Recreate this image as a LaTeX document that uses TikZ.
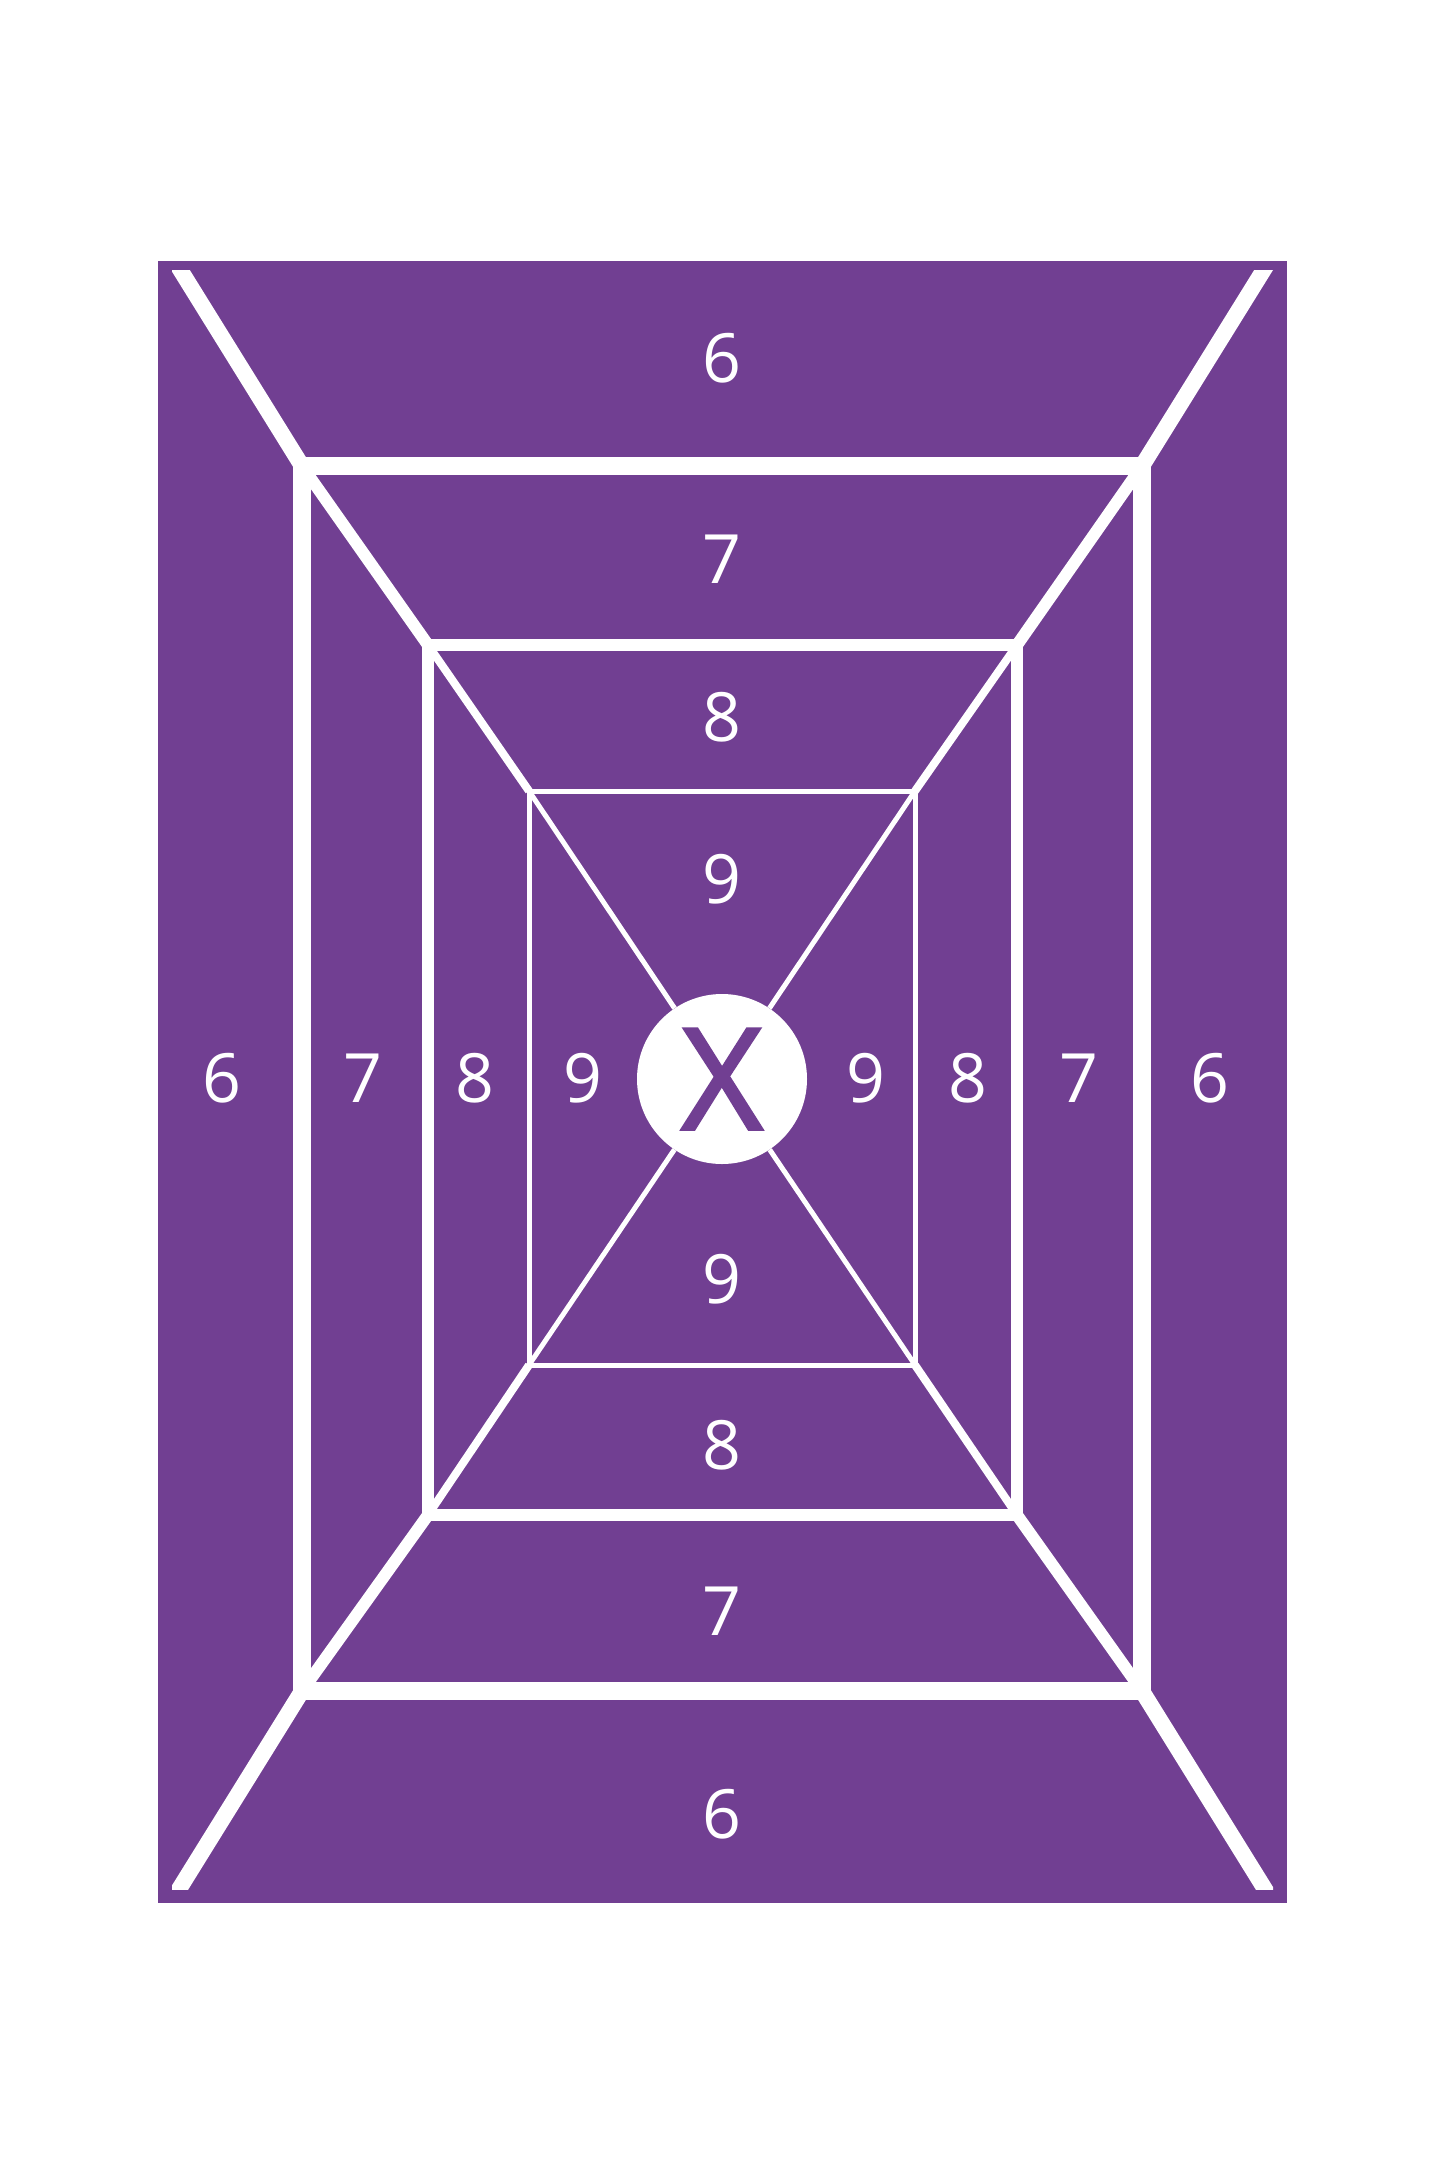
\documentclass[tikz,border=0pt]{standalone}
\usepackage{fontspec}
\setmainfont{Open Sans}
\newfontfamily\xletterfont[FakeBold=2]{Open Sans}
\definecolor{tgtpurple}{RGB}{113,63,146}
\begin{document}
\begin{tikzpicture}[x=1pt,y=-1pt,
  ringone/.style={draw=white,line width=18pt,line join=miter},
  ringtwo/.style={draw=white,line width=12pt,line join=miter},
  ringthree/.style={draw=white,line width=5pt,line join=miter},
  diagone/.style={draw=white,line width=16pt},
  diagtwo/.style={draw=white,line width=12pt},
  diagthree/.style={draw=white,line width=8pt},
  diagfour/.style={draw=white,line width=5pt},
  num/.style={text=white,font=\fontsize{68}{68}\selectfont,inner sep=0pt}]
\useasboundingbox (0,0) rectangle (1445,2168);
\fill[tgtpurple] (158,261) rectangle (1287,1903);
% corner coordinates
\coordinate (E1) at (150,221);  \coordinate (E2) at (1294,221);
\coordinate (E3) at (1294,1936); \coordinate (E4) at (150,1936);
\coordinate (A1) at (302,466);  \coordinate (B1) at (1142,466);
\coordinate (C1) at (1142,1691); \coordinate (D1) at (302,1691);
\coordinate (A2) at (428,645);  \coordinate (B2) at (1017,645);
\coordinate (C2) at (1017,1515); \coordinate (D2) at (428,1515);
\coordinate (A3) at (529,791);  \coordinate (B3) at (915,791);
\coordinate (C3) at (915,1365);  \coordinate (D3) at (529,1365);
\node[circle,fill=white,minimum size=170pt,inner sep=0pt,text=tgtpurple,
      font=\xletterfont\fontsize{141}{141}\selectfont] (X) at (722,1079) {X};
% diagonals
\begin{scope}
\clip (172,270) rectangle (1273,1889);
\draw[diagone] (E1) -- (A1);
\draw[diagone] (E2) -- (B1);
\draw[diagone] (E3) -- (C1);
\draw[diagone] (E4) -- (D1);
\end{scope}
\draw[diagtwo] (A1) -- (A2);
\draw[diagtwo] (B1) -- (B2);
\draw[diagtwo] (C1) -- (C2);
\draw[diagtwo] (D1) -- (D2);
\draw[diagthree] (A2) -- (A3);
\draw[diagthree] (B2) -- (B3);
\draw[diagthree] (C2) -- (C3);
\draw[diagthree] (D2) -- (D3);
\draw[diagfour] (A3) -- (X);
\draw[diagfour] (B3) -- (X);
\draw[diagfour] (C3) -- (X);
\draw[diagfour] (D3) -- (X);
% rings
\draw[ringone] (A1) rectangle (C1);
\draw[ringtwo] (A2) rectangle (C2);
\draw[ringthree] (A3) rectangle (C3);
% numbers: top column
\node[num] (t6) at (722,358) {6};
\node[num] (t7) at (722,559) {7};
\node[num] (t8) at (722,717) {8};
\node[num] (t9) at (722,879) {9};
% bottom column
\node[num] (b9) at (722,1279) {9};
\node[num] (b8) at (722,1445) {8};
\node[num] (b7) at (722,1611) {7};
\node[num] (b6) at (722,1814) {6};
% middle row
\node[num] (l6) at (222,1078) {6};
\node[num] (l7) at (363,1078) {7};
\node[num] (l8) at (475,1078) {8};
\node[num] (l9) at (583,1078) {9};
\node[num] (r9) at (866,1078) {9};
\node[num] (r8) at (968,1078) {8};
\node[num] (r7) at (1079,1078) {7};
\node[num] (r6) at (1210,1078) {6};
\end{tikzpicture}
\end{document}
